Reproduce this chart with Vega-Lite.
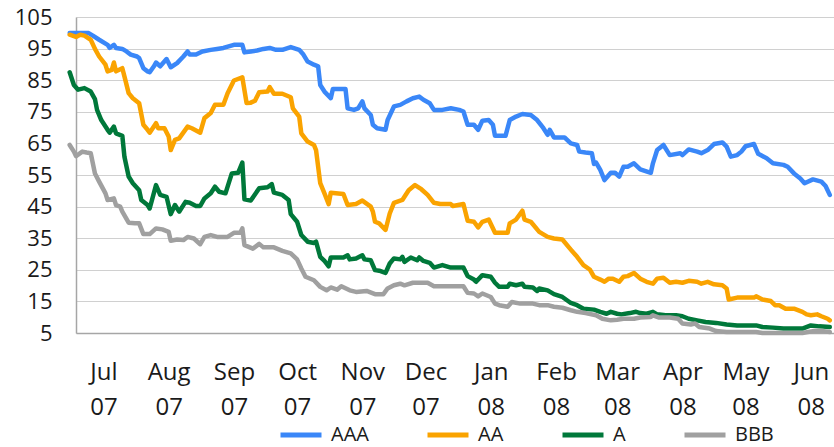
{
  "$schema": "https://vega.github.io/schema/vega-lite/v6.json",
  "width": 758,
  "height": 316,
  "autosize": {"type": "none"},
  "padding": {"left": 76, "top": 17, "right": 0, "bottom": 114},
  "background": "white",
  "config": {"view": {"stroke": null}, "font": "Open Sans"},
  "data": {"values": [
    {"s":"AAA","d":"2007-06-30","v":99.9},{"s":"AAA","d":"2007-07-09","v":99.9},{"s":"AAA","d":"2007-07-11","v":99.1},{"s":"AAA","d":"2007-07-14","v":97.8},{"s":"AAA","d":"2007-07-18","v":96.2},{"s":"AAA","d":"2007-07-19","v":95.2},{"s":"AAA","d":"2007-07-21","v":96.2},{"s":"AAA","d":"2007-07-22","v":95.2},{"s":"AAA","d":"2007-07-25","v":94.9},{"s":"AAA","d":"2007-07-27","v":94.1},{"s":"AAA","d":"2007-07-29","v":93.1},{"s":"AAA","d":"2007-08-01","v":92.5},{"s":"AAA","d":"2007-08-02","v":92.0},{"s":"AAA","d":"2007-08-04","v":88.8},{"s":"AAA","d":"2007-08-06","v":87.8},{"s":"AAA","d":"2007-08-07","v":87.5},{"s":"AAA","d":"2007-08-09","v":89.4},{"s":"AAA","d":"2007-08-10","v":90.6},{"s":"AAA","d":"2007-08-12","v":89.4},{"s":"AAA","d":"2007-08-15","v":91.7},{"s":"AAA","d":"2007-08-17","v":89.1},{"s":"AAA","d":"2007-08-20","v":90.4},{"s":"AAA","d":"2007-08-23","v":92.5},{"s":"AAA","d":"2007-08-25","v":94.1},{"s":"AAA","d":"2007-08-26","v":93.1},{"s":"AAA","d":"2007-08-29","v":93.1},{"s":"AAA","d":"2007-09-01","v":94.1},{"s":"AAA","d":"2007-09-05","v":94.6},{"s":"AAA","d":"2007-09-08","v":94.9},{"s":"AAA","d":"2007-09-11","v":95.2},{"s":"AAA","d":"2007-09-16","v":96.2},{"s":"AAA","d":"2007-09-20","v":96.2},{"s":"AAA","d":"2007-09-21","v":93.8},{"s":"AAA","d":"2007-09-24","v":94.1},{"s":"AAA","d":"2007-09-27","v":94.4},{"s":"AAA","d":"2007-09-30","v":94.9},{"s":"AAA","d":"2007-10-03","v":95.2},{"s":"AAA","d":"2007-10-06","v":94.6},{"s":"AAA","d":"2007-10-09","v":94.6},{"s":"AAA","d":"2007-10-13","v":95.5},{"s":"AAA","d":"2007-10-17","v":94.6},{"s":"AAA","d":"2007-10-19","v":93.1},{"s":"AAA","d":"2007-10-21","v":90.9},{"s":"AAA","d":"2007-10-24","v":89.9},{"s":"AAA","d":"2007-10-26","v":89.4},{"s":"AAA","d":"2007-10-27","v":83.5},{"s":"AAA","d":"2007-10-29","v":81.4},{"s":"AAA","d":"2007-11-01","v":79.3},{"s":"AAA","d":"2007-11-02","v":82.2},{"s":"AAA","d":"2007-11-05","v":82.2},{"s":"AAA","d":"2007-11-08","v":82.2},{"s":"AAA","d":"2007-11-09","v":76.1},{"s":"AAA","d":"2007-11-12","v":75.6},{"s":"AAA","d":"2007-11-14","v":76.1},{"s":"AAA","d":"2007-11-16","v":78.3},{"s":"AAA","d":"2007-11-17","v":76.1},{"s":"AAA","d":"2007-11-20","v":74.0},{"s":"AAA","d":"2007-11-21","v":70.9},{"s":"AAA","d":"2007-11-23","v":69.8},{"s":"AAA","d":"2007-11-27","v":69.3},{"s":"AAA","d":"2007-11-28","v":72.4},{"s":"AAA","d":"2007-12-01","v":76.7},{"s":"AAA","d":"2007-12-04","v":77.2},{"s":"AAA","d":"2007-12-07","v":78.3},{"s":"AAA","d":"2007-12-10","v":79.3},{"s":"AAA","d":"2007-12-13","v":79.8},{"s":"AAA","d":"2007-12-15","v":78.8},{"s":"AAA","d":"2007-12-18","v":77.7},{"s":"AAA","d":"2007-12-20","v":75.6},{"s":"AAA","d":"2007-12-24","v":75.6},{"s":"AAA","d":"2007-12-28","v":76.1},{"s":"AAA","d":"2008-01-01","v":75.6},{"s":"AAA","d":"2008-01-03","v":75.1},{"s":"AAA","d":"2008-01-05","v":70.9},{"s":"AAA","d":"2008-01-08","v":70.9},{"s":"AAA","d":"2008-01-10","v":69.3},{"s":"AAA","d":"2008-01-12","v":72.2},{"s":"AAA","d":"2008-01-15","v":72.4},{"s":"AAA","d":"2008-01-17","v":70.9},{"s":"AAA","d":"2008-01-18","v":67.4},{"s":"AAA","d":"2008-01-23","v":67.4},{"s":"AAA","d":"2008-01-25","v":72.4},{"s":"AAA","d":"2008-01-28","v":73.5},{"s":"AAA","d":"2008-01-31","v":74.3},{"s":"AAA","d":"2008-02-04","v":74.0},{"s":"AAA","d":"2008-02-07","v":72.4},{"s":"AAA","d":"2008-02-10","v":69.8},{"s":"AAA","d":"2008-02-12","v":67.7},{"s":"AAA","d":"2008-02-13","v":69.3},{"s":"AAA","d":"2008-02-15","v":66.9},{"s":"AAA","d":"2008-02-20","v":66.9},{"s":"AAA","d":"2008-02-23","v":65.0},{"s":"AAA","d":"2008-02-26","v":64.5},{"s":"AAA","d":"2008-02-27","v":62.4},{"s":"AAA","d":"2008-03-01","v":62.1},{"s":"AAA","d":"2008-03-04","v":61.9},{"s":"AAA","d":"2008-03-05","v":58.5},{"s":"AAA","d":"2008-03-06","v":58.9},{"s":"AAA","d":"2008-03-08","v":56.6},{"s":"AAA","d":"2008-03-10","v":53.4},{"s":"AAA","d":"2008-03-13","v":55.7},{"s":"AAA","d":"2008-03-15","v":55.7},{"s":"AAA","d":"2008-03-17","v":54.5},{"s":"AAA","d":"2008-03-19","v":57.6},{"s":"AAA","d":"2008-03-21","v":57.6},{"s":"AAA","d":"2008-03-24","v":58.7},{"s":"AAA","d":"2008-03-27","v":56.8},{"s":"AAA","d":"2008-04-01","v":55.7},{"s":"AAA","d":"2008-04-02","v":58.7},{"s":"AAA","d":"2008-04-04","v":62.9},{"s":"AAA","d":"2008-04-07","v":64.5},{"s":"AAA","d":"2008-04-10","v":61.3},{"s":"AAA","d":"2008-04-15","v":61.9},{"s":"AAA","d":"2008-04-16","v":61.3},{"s":"AAA","d":"2008-04-19","v":63.1},{"s":"AAA","d":"2008-04-23","v":62.4},{"s":"AAA","d":"2008-04-25","v":61.9},{"s":"AAA","d":"2008-04-28","v":62.9},{"s":"AAA","d":"2008-05-01","v":64.8},{"s":"AAA","d":"2008-05-05","v":65.3},{"s":"AAA","d":"2008-05-07","v":64.0},{"s":"AAA","d":"2008-05-09","v":60.8},{"s":"AAA","d":"2008-05-12","v":61.3},{"s":"AAA","d":"2008-05-14","v":62.4},{"s":"AAA","d":"2008-05-16","v":64.1},{"s":"AAA","d":"2008-05-20","v":64.8},{"s":"AAA","d":"2008-05-22","v":61.7},{"s":"AAA","d":"2008-05-26","v":60.3},{"s":"AAA","d":"2008-05-29","v":58.7},{"s":"AAA","d":"2008-06-03","v":58.2},{"s":"AAA","d":"2008-06-05","v":57.6},{"s":"AAA","d":"2008-06-08","v":55.5},{"s":"AAA","d":"2008-06-11","v":53.9},{"s":"AAA","d":"2008-06-13","v":52.4},{"s":"AAA","d":"2008-06-17","v":53.6},{"s":"AAA","d":"2008-06-21","v":52.9},{"s":"AAA","d":"2008-06-23","v":51.5},{"s":"AAA","d":"2008-06-25","v":48.7},

    {"s":"AA","d":"2007-06-30","v":99.4},{"s":"AA","d":"2007-07-03","v":98.7},{"s":"AA","d":"2007-07-05","v":99.4},{"s":"AA","d":"2007-07-07","v":99.1},{"s":"AA","d":"2007-07-10","v":97.8},{"s":"AA","d":"2007-07-12","v":94.9},{"s":"AA","d":"2007-07-14","v":92.5},{"s":"AA","d":"2007-07-17","v":89.9},{"s":"AA","d":"2007-07-18","v":87.8},{"s":"AA","d":"2007-07-20","v":88.3},{"s":"AA","d":"2007-07-21","v":90.6},{"s":"AA","d":"2007-07-22","v":87.8},{"s":"AA","d":"2007-07-25","v":88.8},{"s":"AA","d":"2007-07-26","v":86.2},{"s":"AA","d":"2007-07-28","v":80.9},{"s":"AA","d":"2007-07-30","v":79.3},{"s":"AA","d":"2007-08-02","v":77.7},{"s":"AA","d":"2007-08-04","v":70.9},{"s":"AA","d":"2007-08-06","v":69.3},{"s":"AA","d":"2007-08-07","v":68.4},{"s":"AA","d":"2007-08-10","v":71.4},{"s":"AA","d":"2007-08-11","v":69.8},{"s":"AA","d":"2007-08-14","v":69.8},{"s":"AA","d":"2007-08-16","v":67.2},{"s":"AA","d":"2007-08-17","v":62.9},{"s":"AA","d":"2007-08-19","v":66.1},{"s":"AA","d":"2007-08-21","v":66.6},{"s":"AA","d":"2007-08-25","v":70.3},{"s":"AA","d":"2007-08-27","v":69.8},{"s":"AA","d":"2007-08-31","v":68.4},{"s":"AA","d":"2007-09-02","v":73.0},{"s":"AA","d":"2007-09-05","v":74.6},{"s":"AA","d":"2007-09-07","v":77.2},{"s":"AA","d":"2007-09-11","v":77.2},{"s":"AA","d":"2007-09-13","v":80.9},{"s":"AA","d":"2007-09-16","v":84.9},{"s":"AA","d":"2007-09-20","v":85.9},{"s":"AA","d":"2007-09-22","v":77.8},{"s":"AA","d":"2007-09-24","v":77.9},{"s":"AA","d":"2007-09-26","v":78.5},{"s":"AA","d":"2007-09-28","v":81.2},{"s":"AA","d":"2007-10-02","v":81.4},{"s":"AA","d":"2007-10-03","v":82.8},{"s":"AA","d":"2007-10-05","v":80.7},{"s":"AA","d":"2007-10-09","v":80.7},{"s":"AA","d":"2007-10-13","v":79.6},{"s":"AA","d":"2007-10-14","v":76.1},{"s":"AA","d":"2007-10-17","v":73.5},{"s":"AA","d":"2007-10-18","v":68.2},{"s":"AA","d":"2007-10-21","v":65.6},{"s":"AA","d":"2007-10-24","v":64.5},{"s":"AA","d":"2007-10-25","v":62.9},{"s":"AA","d":"2007-10-27","v":52.4},{"s":"AA","d":"2007-10-29","v":49.2},{"s":"AA","d":"2007-10-31","v":45.8},{"s":"AA","d":"2007-11-01","v":49.4},{"s":"AA","d":"2007-11-07","v":49.0},{"s":"AA","d":"2007-11-09","v":45.5},{"s":"AA","d":"2007-11-13","v":45.8},{"s":"AA","d":"2007-11-16","v":46.9},{"s":"AA","d":"2007-11-20","v":45.0},{"s":"AA","d":"2007-11-21","v":43.4},{"s":"AA","d":"2007-11-22","v":40.2},{"s":"AA","d":"2007-11-24","v":39.7},{"s":"AA","d":"2007-11-27","v":37.6},{"s":"AA","d":"2007-11-29","v":42.8},{"s":"AA","d":"2007-12-01","v":46.2},{"s":"AA","d":"2007-12-05","v":47.1},{"s":"AA","d":"2007-12-08","v":50.2},{"s":"AA","d":"2007-12-11","v":51.8},{"s":"AA","d":"2007-12-14","v":50.5},{"s":"AA","d":"2007-12-17","v":48.7},{"s":"AA","d":"2007-12-20","v":46.2},{"s":"AA","d":"2007-12-23","v":45.8},{"s":"AA","d":"2007-12-28","v":45.8},{"s":"AA","d":"2007-12-29","v":45.2},{"s":"AA","d":"2008-01-03","v":45.8},{"s":"AA","d":"2008-01-05","v":40.5},{"s":"AA","d":"2008-01-08","v":40.2},{"s":"AA","d":"2008-01-10","v":38.4},{"s":"AA","d":"2008-01-12","v":40.2},{"s":"AA","d":"2008-01-15","v":40.9},{"s":"AA","d":"2008-01-18","v":36.7},{"s":"AA","d":"2008-01-24","v":36.7},{"s":"AA","d":"2008-01-25","v":39.7},{"s":"AA","d":"2008-01-28","v":40.9},{"s":"AA","d":"2008-01-31","v":43.7},{"s":"AA","d":"2008-02-01","v":40.9},{"s":"AA","d":"2008-02-04","v":40.2},{"s":"AA","d":"2008-02-08","v":37.0},{"s":"AA","d":"2008-02-12","v":35.4},{"s":"AA","d":"2008-02-15","v":34.9},{"s":"AA","d":"2008-02-19","v":34.6},{"s":"AA","d":"2008-02-23","v":31.4},{"s":"AA","d":"2008-02-26","v":29.1},{"s":"AA","d":"2008-02-29","v":26.5},{"s":"AA","d":"2008-03-03","v":25.1},{"s":"AA","d":"2008-03-05","v":22.8},{"s":"AA","d":"2008-03-08","v":21.9},{"s":"AA","d":"2008-03-10","v":21.2},{"s":"AA","d":"2008-03-12","v":22.2},{"s":"AA","d":"2008-03-14","v":22.2},{"s":"AA","d":"2008-03-17","v":21.2},{"s":"AA","d":"2008-03-19","v":22.8},{"s":"AA","d":"2008-03-21","v":23.0},{"s":"AA","d":"2008-03-24","v":24.0},{"s":"AA","d":"2008-03-27","v":22.2},{"s":"AA","d":"2008-03-30","v":21.2},{"s":"AA","d":"2008-04-02","v":20.6},{"s":"AA","d":"2008-04-04","v":22.2},{"s":"AA","d":"2008-04-07","v":22.5},{"s":"AA","d":"2008-04-10","v":20.9},{"s":"AA","d":"2008-04-13","v":21.2},{"s":"AA","d":"2008-04-16","v":20.9},{"s":"AA","d":"2008-04-19","v":21.5},{"s":"AA","d":"2008-04-23","v":21.2},{"s":"AA","d":"2008-04-25","v":20.6},{"s":"AA","d":"2008-04-28","v":21.2},{"s":"AA","d":"2008-05-01","v":20.4},{"s":"AA","d":"2008-05-05","v":20.1},{"s":"AA","d":"2008-05-07","v":19.1},{"s":"AA","d":"2008-05-08","v":15.6},{"s":"AA","d":"2008-05-12","v":16.2},{"s":"AA","d":"2008-05-20","v":16.2},{"s":"AA","d":"2008-05-21","v":16.6},{"s":"AA","d":"2008-05-24","v":15.6},{"s":"AA","d":"2008-05-28","v":15.1},{"s":"AA","d":"2008-05-30","v":13.8},{"s":"AA","d":"2008-06-01","v":13.8},{"s":"AA","d":"2008-06-04","v":12.7},{"s":"AA","d":"2008-06-08","v":12.7},{"s":"AA","d":"2008-06-12","v":11.7},{"s":"AA","d":"2008-06-14","v":10.9},{"s":"AA","d":"2008-06-16","v":10.6},{"s":"AA","d":"2008-06-19","v":10.9},{"s":"AA","d":"2008-06-21","v":10.3},{"s":"AA","d":"2008-06-24","v":9.5},{"s":"AA","d":"2008-06-25","v":9.0},

    {"s":"A","d":"2007-06-30","v":87.5},{"s":"A","d":"2007-07-02","v":83.5},{"s":"A","d":"2007-07-04","v":82.0},{"s":"A","d":"2007-07-07","v":82.5},{"s":"A","d":"2007-07-10","v":81.4},{"s":"A","d":"2007-07-12","v":79.0},{"s":"A","d":"2007-07-13","v":75.6},{"s":"A","d":"2007-07-15","v":72.4},{"s":"A","d":"2007-07-18","v":69.3},{"s":"A","d":"2007-07-19","v":68.4},{"s":"A","d":"2007-07-21","v":70.3},{"s":"A","d":"2007-07-22","v":68.2},{"s":"A","d":"2007-07-25","v":67.4},{"s":"A","d":"2007-07-26","v":60.8},{"s":"A","d":"2007-07-28","v":54.5},{"s":"A","d":"2007-07-30","v":52.4},{"s":"A","d":"2007-08-02","v":50.2},{"s":"A","d":"2007-08-03","v":47.1},{"s":"A","d":"2007-08-06","v":45.5},{"s":"A","d":"2007-08-07","v":44.4},{"s":"A","d":"2007-08-10","v":51.8},{"s":"A","d":"2007-08-12","v":48.7},{"s":"A","d":"2007-08-15","v":48.1},{"s":"A","d":"2007-08-17","v":42.6},{"s":"A","d":"2007-08-19","v":45.5},{"s":"A","d":"2007-08-21","v":43.4},{"s":"A","d":"2007-08-24","v":46.5},{"s":"A","d":"2007-08-26","v":46.2},{"s":"A","d":"2007-08-29","v":45.2},{"s":"A","d":"2007-08-31","v":45.2},{"s":"A","d":"2007-09-02","v":47.6},{"s":"A","d":"2007-09-05","v":49.2},{"s":"A","d":"2007-09-07","v":51.3},{"s":"A","d":"2007-09-09","v":49.7},{"s":"A","d":"2007-09-12","v":49.2},{"s":"A","d":"2007-09-15","v":55.5},{"s":"A","d":"2007-09-18","v":55.7},{"s":"A","d":"2007-09-20","v":58.9},{"s":"A","d":"2007-09-21","v":47.3},{"s":"A","d":"2007-09-24","v":46.9},{"s":"A","d":"2007-09-28","v":50.8},{"s":"A","d":"2007-10-02","v":51.1},{"s":"A","d":"2007-10-04","v":52.1},{"s":"A","d":"2007-10-05","v":49.4},{"s":"A","d":"2007-10-09","v":48.7},{"s":"A","d":"2007-10-12","v":47.1},{"s":"A","d":"2007-10-13","v":42.6},{"s":"A","d":"2007-10-16","v":40.2},{"s":"A","d":"2007-10-18","v":36.0},{"s":"A","d":"2007-10-21","v":33.9},{"s":"A","d":"2007-10-24","v":33.5},{"s":"A","d":"2007-10-25","v":33.9},{"s":"A","d":"2007-10-27","v":29.1},{"s":"A","d":"2007-10-29","v":27.8},{"s":"A","d":"2007-10-31","v":26.1},{"s":"A","d":"2007-11-01","v":28.9},{"s":"A","d":"2007-11-07","v":28.9},{"s":"A","d":"2007-11-09","v":29.6},{"s":"A","d":"2007-11-10","v":28.3},{"s":"A","d":"2007-11-13","v":28.6},{"s":"A","d":"2007-11-16","v":29.6},{"s":"A","d":"2007-11-17","v":28.3},{"s":"A","d":"2007-11-20","v":28.0},{"s":"A","d":"2007-11-22","v":24.9},{"s":"A","d":"2007-11-24","v":24.7},{"s":"A","d":"2007-11-27","v":24.0},{"s":"A","d":"2007-11-29","v":27.0},{"s":"A","d":"2007-12-01","v":28.6},{"s":"A","d":"2007-12-04","v":28.3},{"s":"A","d":"2007-12-05","v":29.1},{"s":"A","d":"2007-12-06","v":27.5},{"s":"A","d":"2007-12-09","v":28.9},{"s":"A","d":"2007-12-12","v":28.0},{"s":"A","d":"2007-12-13","v":28.9},{"s":"A","d":"2007-12-15","v":27.8},{"s":"A","d":"2007-12-18","v":27.2},{"s":"A","d":"2007-12-20","v":25.7},{"s":"A","d":"2007-12-24","v":26.5},{"s":"A","d":"2007-12-28","v":25.7},{"s":"A","d":"2008-01-03","v":25.7},{"s":"A","d":"2008-01-05","v":23.0},{"s":"A","d":"2008-01-08","v":21.9},{"s":"A","d":"2008-01-09","v":21.2},{"s":"A","d":"2008-01-12","v":23.3},{"s":"A","d":"2008-01-16","v":22.8},{"s":"A","d":"2008-01-18","v":20.9},{"s":"A","d":"2008-01-20","v":19.6},{"s":"A","d":"2008-01-24","v":19.6},{"s":"A","d":"2008-01-25","v":20.6},{"s":"A","d":"2008-01-28","v":20.1},{"s":"A","d":"2008-01-31","v":20.6},{"s":"A","d":"2008-02-01","v":19.6},{"s":"A","d":"2008-02-05","v":19.4},{"s":"A","d":"2008-02-07","v":18.3},{"s":"A","d":"2008-02-08","v":19.1},{"s":"A","d":"2008-02-12","v":18.5},{"s":"A","d":"2008-02-15","v":17.3},{"s":"A","d":"2008-02-19","v":16.4},{"s":"A","d":"2008-02-23","v":14.5},{"s":"A","d":"2008-02-26","v":13.8},{"s":"A","d":"2008-02-29","v":12.7},{"s":"A","d":"2008-03-05","v":12.4},{"s":"A","d":"2008-03-08","v":11.7},{"s":"A","d":"2008-03-11","v":11.1},{"s":"A","d":"2008-03-13","v":11.7},{"s":"A","d":"2008-03-16","v":11.1},{"s":"A","d":"2008-03-18","v":10.9},{"s":"A","d":"2008-03-22","v":11.3},{"s":"A","d":"2008-03-25","v":11.7},{"s":"A","d":"2008-03-27","v":11.3},{"s":"A","d":"2008-03-30","v":11.1},{"s":"A","d":"2008-04-02","v":11.7},{"s":"A","d":"2008-04-04","v":10.9},{"s":"A","d":"2008-04-08","v":10.6},{"s":"A","d":"2008-04-13","v":10.6},{"s":"A","d":"2008-04-16","v":10.3},{"s":"A","d":"2008-04-19","v":9.5},{"s":"A","d":"2008-04-23","v":9.0},{"s":"A","d":"2008-04-27","v":8.5},{"s":"A","d":"2008-05-02","v":8.2},{"s":"A","d":"2008-05-07","v":7.7},{"s":"A","d":"2008-05-12","v":7.4},{"s":"A","d":"2008-05-21","v":7.4},{"s":"A","d":"2008-05-24","v":6.9},{"s":"A","d":"2008-05-29","v":6.7},{"s":"A","d":"2008-06-03","v":6.4},{"s":"A","d":"2008-06-09","v":6.4},{"s":"A","d":"2008-06-12","v":6.4},{"s":"A","d":"2008-06-16","v":7.4},{"s":"A","d":"2008-06-20","v":7.1},{"s":"A","d":"2008-06-25","v":6.9},

    {"s":"BBB","d":"2007-06-30","v":64.5},{"s":"BBB","d":"2007-07-02","v":62.4},{"s":"BBB","d":"2007-07-03","v":61.0},{"s":"BBB","d":"2007-07-06","v":62.4},{"s":"BBB","d":"2007-07-08","v":62.1},{"s":"BBB","d":"2007-07-10","v":61.9},{"s":"BBB","d":"2007-07-12","v":55.5},{"s":"BBB","d":"2007-07-14","v":52.9},{"s":"BBB","d":"2007-07-17","v":49.2},{"s":"BBB","d":"2007-07-18","v":47.1},{"s":"BBB","d":"2007-07-21","v":47.6},{"s":"BBB","d":"2007-07-22","v":45.5},{"s":"BBB","d":"2007-07-24","v":45.0},{"s":"BBB","d":"2007-07-25","v":43.4},{"s":"BBB","d":"2007-07-28","v":39.9},{"s":"BBB","d":"2007-07-31","v":39.7},{"s":"BBB","d":"2007-08-02","v":39.7},{"s":"BBB","d":"2007-08-04","v":36.3},{"s":"BBB","d":"2007-08-07","v":36.3},{"s":"BBB","d":"2007-08-10","v":38.1},{"s":"BBB","d":"2007-08-13","v":37.8},{"s":"BBB","d":"2007-08-16","v":37.0},{"s":"BBB","d":"2007-08-17","v":34.2},{"s":"BBB","d":"2007-08-20","v":34.6},{"s":"BBB","d":"2007-08-23","v":34.4},{"s":"BBB","d":"2007-08-25","v":35.4},{"s":"BBB","d":"2007-08-28","v":34.9},{"s":"BBB","d":"2007-08-31","v":33.1},{"s":"BBB","d":"2007-09-02","v":35.4},{"s":"BBB","d":"2007-09-05","v":36.0},{"s":"BBB","d":"2007-09-08","v":35.4},{"s":"BBB","d":"2007-09-13","v":35.4},{"s":"BBB","d":"2007-09-16","v":36.7},{"s":"BBB","d":"2007-09-19","v":36.7},{"s":"BBB","d":"2007-09-20","v":38.1},{"s":"BBB","d":"2007-09-21","v":32.8},{"s":"BBB","d":"2007-09-25","v":31.7},{"s":"BBB","d":"2007-09-28","v":33.2},{"s":"BBB","d":"2007-09-30","v":32.1},{"s":"BBB","d":"2007-10-05","v":32.1},{"s":"BBB","d":"2007-10-09","v":31.0},{"s":"BBB","d":"2007-10-13","v":30.2},{"s":"BBB","d":"2007-10-16","v":28.3},{"s":"BBB","d":"2007-10-18","v":25.4},{"s":"BBB","d":"2007-10-20","v":22.8},{"s":"BBB","d":"2007-10-24","v":21.7},{"s":"BBB","d":"2007-10-27","v":19.6},{"s":"BBB","d":"2007-10-30","v":18.5},{"s":"BBB","d":"2007-11-01","v":19.4},{"s":"BBB","d":"2007-11-04","v":18.7},{"s":"BBB","d":"2007-11-06","v":19.8},{"s":"BBB","d":"2007-11-10","v":18.5},{"s":"BBB","d":"2007-11-13","v":18.0},{"s":"BBB","d":"2007-11-18","v":18.3},{"s":"BBB","d":"2007-11-22","v":17.3},{"s":"BBB","d":"2007-11-26","v":17.3},{"s":"BBB","d":"2007-11-28","v":19.1},{"s":"BBB","d":"2007-12-01","v":20.1},{"s":"BBB","d":"2007-12-04","v":20.6},{"s":"BBB","d":"2007-12-06","v":20.1},{"s":"BBB","d":"2007-12-10","v":20.9},{"s":"BBB","d":"2007-12-17","v":20.9},{"s":"BBB","d":"2007-12-20","v":19.8},{"s":"BBB","d":"2007-12-28","v":19.8},{"s":"BBB","d":"2008-01-03","v":19.8},{"s":"BBB","d":"2008-01-05","v":17.7},{"s":"BBB","d":"2008-01-08","v":17.5},{"s":"BBB","d":"2008-01-10","v":16.6},{"s":"BBB","d":"2008-01-12","v":17.5},{"s":"BBB","d":"2008-01-16","v":16.4},{"s":"BBB","d":"2008-01-18","v":14.3},{"s":"BBB","d":"2008-01-20","v":13.8},{"s":"BBB","d":"2008-01-24","v":13.3},{"s":"BBB","d":"2008-01-26","v":14.8},{"s":"BBB","d":"2008-01-30","v":14.3},{"s":"BBB","d":"2008-02-05","v":14.3},{"s":"BBB","d":"2008-02-08","v":13.8},{"s":"BBB","d":"2008-02-12","v":13.8},{"s":"BBB","d":"2008-02-15","v":13.3},{"s":"BBB","d":"2008-02-19","v":13.0},{"s":"BBB","d":"2008-02-23","v":12.2},{"s":"BBB","d":"2008-02-26","v":11.7},{"s":"BBB","d":"2008-03-01","v":11.3},{"s":"BBB","d":"2008-03-06","v":10.6},{"s":"BBB","d":"2008-03-09","v":9.5},{"s":"BBB","d":"2008-03-13","v":9.0},{"s":"BBB","d":"2008-03-16","v":9.2},{"s":"BBB","d":"2008-03-19","v":9.5},{"s":"BBB","d":"2008-03-24","v":9.5},{"s":"BBB","d":"2008-03-27","v":9.9},{"s":"BBB","d":"2008-04-01","v":10.1},{"s":"BBB","d":"2008-04-02","v":10.6},{"s":"BBB","d":"2008-04-05","v":9.9},{"s":"BBB","d":"2008-04-10","v":9.9},{"s":"BBB","d":"2008-04-14","v":9.5},{"s":"BBB","d":"2008-04-16","v":8.0},{"s":"BBB","d":"2008-04-20","v":7.7},{"s":"BBB","d":"2008-04-22","v":8.0},{"s":"BBB","d":"2008-04-24","v":6.9},{"s":"BBB","d":"2008-04-29","v":6.4},{"s":"BBB","d":"2008-05-02","v":5.6},{"s":"BBB","d":"2008-05-07","v":5.3},{"s":"BBB","d":"2008-05-13","v":5.3},{"s":"BBB","d":"2008-05-21","v":5.3},{"s":"BBB","d":"2008-05-24","v":5.0},{"s":"BBB","d":"2008-05-31","v":5.0},{"s":"BBB","d":"2008-06-06","v":5.0},{"s":"BBB","d":"2008-06-12","v":5.0},{"s":"BBB","d":"2008-06-17","v":5.6},{"s":"BBB","d":"2008-06-22","v":5.6},{"s":"BBB","d":"2008-06-25","v":5.3}
  ]},
  "mark": {"type": "line", "strokeWidth": 4.5, "strokeJoin": "round", "strokeCap": "round"},
  "encoding": {
    "x": {
      "field": "d", "type": "temporal",
      "scale": {"type": "utc", "domain": [{"year": 2007, "month": 7, "date": 3, "utc": true}, {"year": 2008, "month": 6, "date": 27, "utc": true}]},
      "axis": {
        "title": null, "grid": false, "ticks": false,
        "domainColor": "#a6a6a6", "domainWidth": 1.5,
        "values": [
          {"year": 2007, "month": 7, "date": 16, "utc": true}, {"year": 2007, "month": 8, "date": 16, "utc": true},
          {"year": 2007, "month": 9, "date": 16, "utc": true}, {"year": 2007, "month": 10, "date": 16, "utc": true},
          {"year": 2007, "month": 11, "date": 16, "utc": true}, {"year": 2007, "month": 12, "date": 16, "utc": true},
          {"year": 2008, "month": 1, "date": 16, "utc": true}, {"year": 2008, "month": 2, "date": 16, "utc": true},
          {"year": 2008, "month": 3, "date": 16, "utc": true}, {"year": 2008, "month": 4, "date": 16, "utc": true},
          {"year": 2008, "month": 5, "date": 16, "utc": true}, {"year": 2008, "month": 6, "date": 16, "utc": true}
        ],
        "labelExpr": "[utcFormat(datum.value, '%b'), utcFormat(datum.value, '%y')]",
        "labelFont": "Open Sans", "labelFontSize": 24, "labelLineHeight": 35,
        "labelColor": "#1a1a1a", "labelPadding": 27, "labelAlign": "center", "labelBaseline": "top",
        "labelOverlap": false, "labelFlush": false
      }
    },
    "y": {
      "field": "v", "type": "quantitative",
      "scale": {"domain": [5, 105], "nice": false, "zero": false},
      "axis": {
        "title": null, "values": [5, 15, 25, 35, 45, 55, 65, 75, 85, 95, 105],
        "grid": true, "gridColor": "#d0d0d0", "gridWidth": 1,
        "ticks": false, "domainColor": "#a6a6a6", "domainWidth": 1.5,
        "labelFont": "Open Sans", "labelFontSize": 22, "labelColor": "#1a1a1a", "labelPadding": 24,
        "labelOverlap": false, "labelFlush": false
      }
    },
    "color": {
      "field": "s", "type": "nominal",
      "scale": {"domain": ["AAA", "AA", "A", "BBB"], "range": ["#3A87F8", "#FAA300", "#00783A", "#A0A0A0"]},
      "legend": {
        "title": null, "orient": "none", "direction": "horizontal",
        "legendX": 202, "legendY": 395,
        "symbolType": "stroke", "symbolSize": 1681, "symbolStrokeWidth": 5,
        "labelFont": "Open Sans", "labelFontSize": 20, "labelColor": "#1a1a1a",
        "labelOffset": 7, "columnPadding": 48, "padding": 0
      }
    }
  }
}
